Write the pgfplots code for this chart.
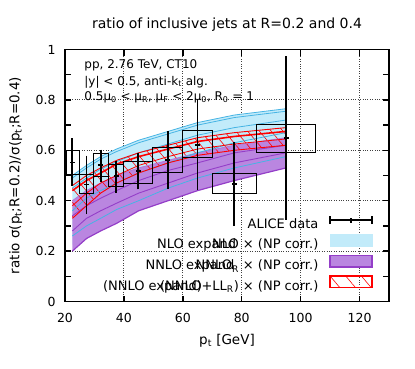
\documentclass[border=0pt]{standalone}
\usepackage{fontspec}
\setmainfont{DejaVu Sans}
\usepackage{pgfplots}
\pgfplotsset{compat=1.18}
\usepackage{pgfplotstable}
\usepgfplotslibrary{fillbetween}
\usetikzlibrary{patterns.meta}

\definecolor{nlofill}{RGB}{194,235,250}
\definecolor{nloline}{RGB}{70,180,228}
\definecolor{nnlofill}{RGB}{186,134,224}
\definecolor{nnloline}{RGB}{148,62,200}

% theory bands: lo/hi edges + a few scale-variation curves
\pgfplotstableread{
x    nlolo nlohi nnlolo nnlohi lllo llhi b1    b2    b3   b4    p1   p2   r1    r2
22.5 0.225 0.500 0.200  0.400  0.330 0.460 0.490 0.450 0.360 0.260 0.340 0.280 0.440 0.380
27.3 0.270 0.540 0.250  0.440  0.380 0.500 0.530 0.490 0.410 0.300 0.380 0.330 0.480 0.430
32.1 0.300 0.575 0.280  0.470  0.430 0.530 0.565 0.525 0.440 0.330 0.410 0.360 0.510 0.470
37.5 0.330 0.605 0.310  0.500  0.470 0.560 0.595 0.555 0.470 0.365 0.440 0.390 0.545 0.500
45.0 0.370 0.640 0.360  0.530  0.510 0.590 0.630 0.590 0.510 0.400 0.480 0.430 0.575 0.540
55.0 0.420 0.675 0.400  0.560  0.550 0.620 0.665 0.625 0.550 0.450 0.520 0.470 0.605 0.575
65.0 0.460 0.710 0.440  0.590  0.580 0.650 0.700 0.660 0.590 0.490 0.550 0.510 0.635 0.605
77.5 0.500 0.740 0.480  0.620  0.600 0.670 0.730 0.690 0.630 0.530 0.590 0.550 0.655 0.625
95.0 0.550 0.765 0.530  0.650  0.620 0.690 0.755 0.720 0.670 0.575 0.620 0.590 0.675 0.645
}\bands

% ALICE data: central value, total error range
\pgfplotstableread{
x    y     lo    hi
22.4 0.552 0.475 0.632
27.3 0.465 0.362 0.564
32.2 0.542 0.491 0.588
37.4 0.498 0.446 0.544
44.8 0.518 0.460 0.575
54.9 0.562 0.461 0.662
65.0 0.622 0.456 0.790
77.4 0.466 0.314 0.618
95.1 0.648 0.339 0.958
}\alice

\begin{document}
\begin{tikzpicture}
\begin{axis}[
    at={(65pt,66.5pt)}, anchor=south west,
    scale only axis, width=324pt, height=252pt,
    xmin=20, xmax=130, ymin=0, ymax=1,
    xtick={20,40,...,120},
    ytick={0,0.2,0.4,0.6,0.8,1},
    minor ytick={0.1,0.3,0.5,0.7,0.9},
    major tick length=6pt, minor tick length=6pt,
    tick style={black, line width=1.4pt},
    axis line style={line width=1.8pt},
    grid=major,
    major grid style={dotted, line width=0.9pt, black!75},
    /pgf/number format/assume math mode=true,
    tick label style={font=\fontsize{12.5}{14}\selectfont},
    xticklabel style={yshift=-8pt},
    yticklabel style={xshift=-6pt},
    title={ratio of inclusive jets at R=0.2 and 0.4},
    title style={font=\fontsize{14}{16}\selectfont, at={(axis description cs:0.5,1)}, anchor=base, yshift=15pt},
    xlabel={p\textsubscript{t} [GeV]},
    xlabel style={font=\fontsize{13.5}{15}\selectfont, at={(axis description cs:0.5,0)}, anchor=base, yshift=-42.5pt},
    ylabel={ratio σ(p\textsubscript{t};R=0.2)/σ(p\textsubscript{t};R=0.4)},
    ylabel style={font=\fontsize{13.5}{15}\selectfont, at={(axis description cs:0,0.5)}, anchor=base, yshift=45.5pt},
    legend style={draw=none, fill=none, at={(axis description cs:0.951,0.038)}, anchor=south east,
        font=\fontsize{13}{15}\selectfont, row sep=4.5pt, column sep=11pt, inner sep=0pt, nodes={inner sep=0pt}},
    legend cell align=right, legend plot pos=right,
]

% NLO band
\addplot[name path=nlolo, draw=none, forget plot] table[x=x,y=nlolo]{\bands};
\addplot[name path=nlohi, nloline, line width=0.8pt, forget plot] table[x=x,y=nlohi]{\bands};
\addplot[nlofill, forget plot] fill between[of=nlolo and nlohi];

% NNLO_R band
\addplot[name path=nnlolo, nnloline, line width=1.2pt, forget plot] table[x=x,y=nnlolo]{\bands};
\addplot[name path=nnlohi, nnloline!70, line width=0.9pt, forget plot] table[x=x,y=nnlohi]{\bands};
\addplot[nnlofill, forget plot] fill between[of=nnlolo and nnlohi];

\addplot[nloline, line width=0.8pt, forget plot] table[x=x,y=b1]{\bands};
\addplot[nloline, line width=0.8pt, forget plot] table[x=x,y=b2]{\bands};
\addplot[nloline, line width=0.8pt, forget plot] table[x=x,y=b3]{\bands};
\addplot[nloline, line width=0.8pt, forget plot] table[x=x,y=b4]{\bands};
\addplot[nnloline, line width=0.9pt, forget plot] table[x=x,y=p1]{\bands};
\addplot[nnloline, line width=0.9pt, forget plot] table[x=x,y=p2]{\bands};

% (NNLO+LL_R) band, hatched
\addplot[name path=lllo, red, line width=0.9pt, forget plot] table[x=x,y=lllo]{\bands};
\addplot[name path=llhi, red, line width=0.9pt, forget plot] table[x=x,y=llhi]{\bands};
\addplot[pattern={Lines[angle=-50,distance=9pt,line width=0.6pt]}, pattern color=red, forget plot] fill between[of=lllo and llhi];
\addplot[red, line width=1.6pt, forget plot] table[x=x,y=r1]{\bands};
\addplot[red, line width=0.8pt, forget plot] table[x=x,y=r2]{\bands};

% systematic boxes
\addplot[black, line width=1pt, forget plot] coordinates {(20.5,0.505)(24.8,0.505)(24.8,0.598)(20.5,0.598)(20.5,0.505)};
\addplot[black, line width=1pt, forget plot] coordinates {(24.8,0.430)(29.8,0.430)(29.8,0.505)(24.8,0.505)(24.8,0.430)};
\addplot[black, line width=1pt, forget plot] coordinates {(29.8,0.495)(34.9,0.495)(34.9,0.586)(29.8,0.586)(29.8,0.495)};
\addplot[black, line width=1pt, forget plot] coordinates {(34.9,0.456)(39.8,0.456)(39.8,0.542)(34.9,0.542)(34.9,0.456)};
\addplot[black, line width=1pt, forget plot] coordinates {(39.8,0.469)(49.7,0.469)(49.7,0.555)(39.8,0.555)(39.8,0.469)};
\addplot[black, line width=1pt, forget plot] coordinates {(49.7,0.511)(59.9,0.511)(59.9,0.612)(49.7,0.612)(49.7,0.511)};
\addplot[black, line width=1pt, forget plot] coordinates {(59.9,0.571)(70.0,0.571)(70.0,0.678)(59.9,0.678)(59.9,0.571)};
\addplot[black, line width=1pt, forget plot] coordinates {(70.0,0.427)(85.0,0.427)(85.0,0.509)(70.0,0.509)(70.0,0.427)};
\addplot[black, line width=1pt, forget plot] coordinates {(85.0,0.592)(105.0,0.592)(105.0,0.703)(85.0,0.703)(85.0,0.592)};

% ALICE points with error bars
\addplot[black, only marks, mark=-, mark size=2.5pt, mark options={line width=1.5pt}, forget plot,
    error bars/.cd, y dir=both, y explicit,
    error bar style={line width=1.6pt},
    error mark options={mark size=3.8pt, line width=1.6pt}]
    table[x=x, y=y, y error plus expr=\thisrow{hi}-\thisrow{y}, y error minus expr=\thisrow{y}-\thisrow{lo}]{\alice};

\node[anchor=base west, font=\fontsize{12}{14}\selectfont] at (axis cs:25.4,0.923) {pp, 2.76 TeV, CT10};
\node[anchor=base west, font=\fontsize{12}{14}\selectfont] at (axis cs:25.4,0.859) {|y| < 0.5, anti-k\textsubscript{t} alg.};
\node[anchor=base west, font=\fontsize{12}{14}\selectfont] at (axis cs:25.4,0.796) {0.5μ\textsubscript{0} < μ\textsubscript{R}, μ\textsubscript{F} < 2μ\textsubscript{0}, R\textsubscript{0} = 1};

% legend
\addlegendimage{legend image code/.code={
    \draw[line width=1.6pt] (0pt,4pt)--(42pt,4pt) (0pt,0pt)--(0pt,8pt) (42pt,0pt)--(42pt,8pt) (21pt,1.5pt)--(21pt,6.5pt);}}
\addlegendentry{ALICE data}
\addlegendimage{legend image code/.code={
    \fill[nlofill] (0pt,-1.5pt) rectangle (42pt,10pt);}}
\addlegendentry{\hspace*{-55pt}\rlap{NLO expand}\hspace*{55pt}NLO × (NP corr.)}
\addlegendimage{legend image code/.code={
    \draw[nnloline, line width=1.5pt, fill=nnlofill] (0pt,-1.5pt) rectangle (42pt,10pt);}}
\addlegendentry{\hspace*{-50pt}\rlap{NNLO expand}\hspace*{50pt}NNLO\textsubscript{R} × (NP corr.)}
\addlegendimage{legend image code/.code={
    \draw[red, line width=1.5pt, pattern={Lines[angle=-50,distance=12pt,line width=0.6pt]}, pattern color=red] (0pt,-1.5pt) rectangle (42pt,10pt);}}
\addlegendentry{\hspace*{-57pt}\rlap{(NNLO expand)}\hspace*{57pt}(NNLO+LL\textsubscript{R}) × (NP corr.)}
\end{axis}
\pgfresetboundingbox
\path[use as bounding box] (0,0) rectangle (415pt,368pt);
\end{tikzpicture}
\end{document}
